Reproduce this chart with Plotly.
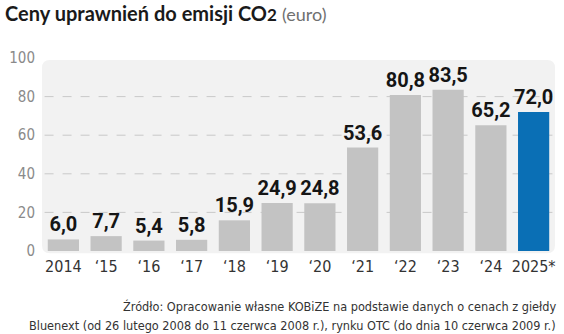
import plotly.graph_objects as go

# EUA price per year (euro)
years = ["2014", "‘15", "‘16", "‘17", "‘18", "‘19", "‘20", "‘21", "‘22", "‘23", "‘24", "2025*"]
prices = [6.0, 7.7, 5.4, 5.8, 15.9, 24.9, 24.8, 53.6, 80.8, 83.5, 65.2, 72.0]
y_ticks = [0, 20, 40, 60, 80, 100]
grid_levels = [20, 40, 60, 80]

source_lines = [
    "Źródło: Opracowanie własne KOBiZE na podstawie danych o cenach z giełdy",
    "Bluenext (od 26 lutego 2008 do 11 czerwca 2008 r.), rynku OTC (do dnia 10 czerwca 2009 r.)",
]

COND = "DejaVu Sans Condensed, sans-serif"
GREY_BAR = "#c3c3c3"
BLUE_BAR = "#0a6fb5"

colors = [GREY_BAR] * (len(years) - 1) + [BLUE_BAR]
labels = [f"{v:.1f}".replace(".", ",") for v in prices]

fig = go.Figure()
fig.add_trace(go.Bar(
    x=years,
    y=prices,
    marker=dict(color=colors, line=dict(width=0)),
    width=0.73,
    text=labels,
    textposition="outside",
    constraintext="none",
    textfont=dict(family="Roboto, sans-serif", size=20, color="#151515", weight="bold"),
    cliponaxis=False,
    hoverinfo="skip",
))

# rounded light panel behind the bars
W, H = 520.0, 193.0
rx, ry = 8 / W, 8 / H
x0, x1, y0, y1 = 0.0, 1.0, -0.012, 0.99
panel = (
    f"M {x0 + rx},{y0} L {x1 - rx},{y0} Q {x1},{y0} {x1},{y0 + ry} "
    f"L {x1},{y1 - ry} Q {x1},{y1} {x1 - rx},{y1} "
    f"L {x0 + rx},{y1} Q {x0},{y1} {x0},{y1 - ry} "
    f"L {x0},{y0 + ry} Q {x0},{y0} {x0 + rx},{y0} Z"
)
shapes = [dict(type="path", path=panel, xref="paper", yref="paper",
               fillcolor="#f2f2f2", line=dict(width=0), layer="below")]
for g in grid_levels:
    shapes.append(dict(type="line", xref="paper", yref="y", x0=0.005, x1=0.995,
                       y0=g, y1=g, line=dict(color="#c9c9c9", width=1, dash="dash"),
                       layer="below"))

annotations = []
for i, line in enumerate(source_lines):
    annotations.append(dict(
        text=line, xref="paper", yref="paper", x=1.006, y=-0.285 - i * 0.1,
        xanchor="right", yanchor="middle", showarrow=False,
        font=dict(family=COND, size=12.6, color="#333333"),
    ))

fig.update_layout(
    width=564, height=334,
    margin=dict(l=35, r=9, t=58, b=83),
    paper_bgcolor="white",
    plot_bgcolor="rgba(0,0,0,0)",
    showlegend=False,
    shapes=shapes,
    annotations=annotations,
    title=dict(
        text="<b>Ceny uprawnień do emisji CO<span style='font-size:17px'>2</span></b>"
             " <span style='font-size:18px;color:#707070'>(euro)</span>",
        x=0.009, xanchor="left", y=0.958, yanchor="middle",
        font=dict(family="Lato, Open Sans, sans-serif", size=20, color="#1a1a1a"),
    ),
    xaxis=dict(
        type="category", showgrid=False, zeroline=False, showline=False,
        ticks="", tickfont=dict(family=COND, size=16, color="#333333"),
        ticklabelstandoff=4,
    ),
    yaxis=dict(
        range=[0, 100], tickvals=y_ticks, showgrid=False, zeroline=False,
        showline=False, ticks="",
        tickfont=dict(family=COND, size=15, color="#8a8a8a"),
        ticklabelstandoff=6,
    ),
)

fig.write_html("out.html")
